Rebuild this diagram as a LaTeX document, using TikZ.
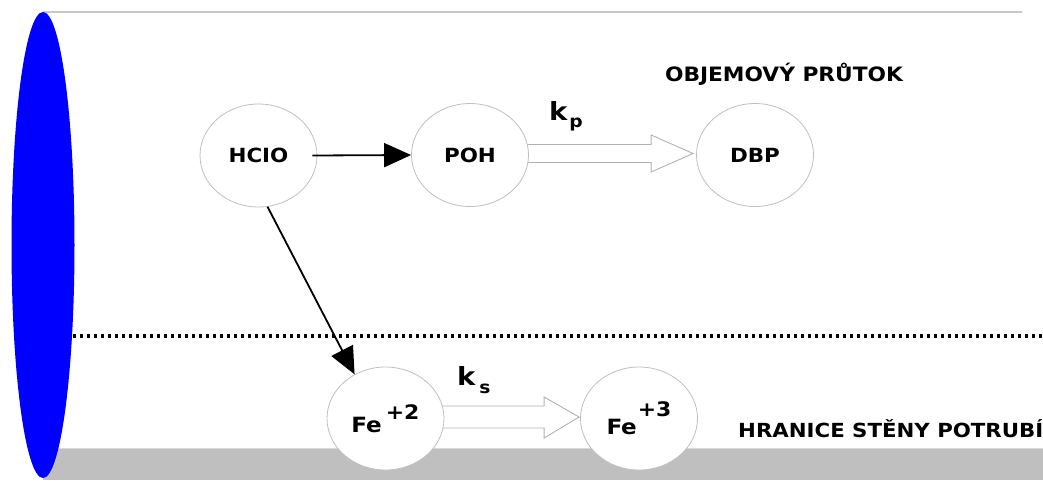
\documentclass[tikz,border=0pt]{standalone}
\usepackage{fontspec}
\setmainfont{DejaVu Sans Condensed}[FakeStretch=1.22]
\usetikzlibrary{shapes.geometric,arrows.meta}
\pgfdeclarelayer{bgl}
\pgfdeclarelayer{mid}
\pgfsetlayers{bgl,mid,main}
\begin{document}
\begin{tikzpicture}[x=1pt,y=-1pt,
  circ/.style={draw=black!25, line width=0.8pt, fill=white, ellipse,
    minimum width=117pt, minimum height=103pt, inner sep=0pt,
    font=\bfseries\fontsize{19.5}{22}\selectfont},
  hollow/.style={draw=black!30, line width=0.9pt, fill=white, line join=miter},
  blackarrow/.style={line width=1.8pt, -{Triangle[length=27pt,width=24pt]}},
  lbl/.style={font=\bfseries\fontsize{19.8}{22}\selectfont, inner sep=0pt}]
\useasboundingbox (0,0) rectangle (1043,480);
\begin{pgfonlayer}{bgl}
  \fill[black!25] (43,448) rectangle (1043,480);
  \draw[black!15, line width=1pt] (43,448) -- (1043,448);
  \draw[black!22, line width=1.2pt] (43,12) -- (1022,12);
  \draw[line width=3.2pt, dash pattern=on 3pt off 4pt] (73,336) -- (1043,336);
\end{pgfonlayer}

\node[circ] (hcio) at (258.5,155.5) {HCIO};
\node[circ] (poh) at (470,155) {POH};
\node[circ] (dbp) at (755,155) {DBP};
\node[circ, font=\bfseries\fontsize{21}{24}\selectfont] (fe2) at (385.5,418.5) {Fe\hspace{4pt}\raisebox{13pt}{\fontsize{20}{22}\selectfont+2}};
\node[circ, font=\bfseries\fontsize{21}{24}\selectfont] (fe3) at (639,418.5) {\raisebox{-2pt}{Fe}\hspace{1pt}\raisebox{16pt}{\fontsize{20}{22}\selectfont+3}};

\begin{pgfonlayer}{mid}
  \draw[hollow] ([xshift=-6pt,yshift=10.5pt]poh.east)
    -- ([xshift=-45pt,yshift=10.5pt]dbp.west)
    -- ([xshift=-45pt,yshift=20pt]dbp.west)
    -- ([xshift=-3pt,yshift=1.5pt]dbp.west)
    -- ([xshift=-45pt,yshift=-17pt]dbp.west)
    -- ([xshift=-45pt,yshift=-7.5pt]dbp.west)
    -- ([xshift=-6pt,yshift=-7.5pt]poh.east) -- cycle;
  \draw[hollow] ([xshift=-6pt,yshift=12.5pt]fe2.east)
    -- ([xshift=-36pt,yshift=12.5pt]fe3.west)
    -- ([xshift=-36pt,yshift=21.5pt]fe3.west)
    -- ([xshift=-1pt,yshift=1.5pt]fe3.west)
    -- ([xshift=-36pt,yshift=-19.5pt]fe3.west)
    -- ([xshift=-36pt,yshift=-9.5pt]fe3.west)
    -- ([xshift=-6pt,yshift=-9.5pt]fe2.east) -- cycle;
\end{pgfonlayer}

\draw[blackarrow] ([xshift=-5pt]hcio.east) -- (poh.west);
\draw[blackarrow] (hcio.-80) -- (fe2.125);

\fill[blue] (43,245) ellipse [x radius=31.5pt, y radius=233pt];

\node[inner sep=0pt, anchor=base west] (kp) at (549,120)
  {\bfseries\fontsize{25}{25}\selectfont k\hspace{2pt}\fontsize{17}{17}\selectfont\raisebox{-7pt}{p}};
\node[inner sep=0pt, anchor=base west] (ks) at (457,385)
  {\bfseries\fontsize{25}{25}\selectfont k\hspace{4pt}\fontsize{17}{17}\selectfont\raisebox{-8pt}{s}};

\node[lbl, anchor=base] (obj) at (784,81) {OBJEMOVÝ PRŮTOK};
\node[lbl, anchor=base west, font=\bfseries\fontsize{19.4}{22}\selectfont] (hran) at (738,437) {HRANICE STĚNY POTRUBÍ};
\end{tikzpicture}
\end{document}
